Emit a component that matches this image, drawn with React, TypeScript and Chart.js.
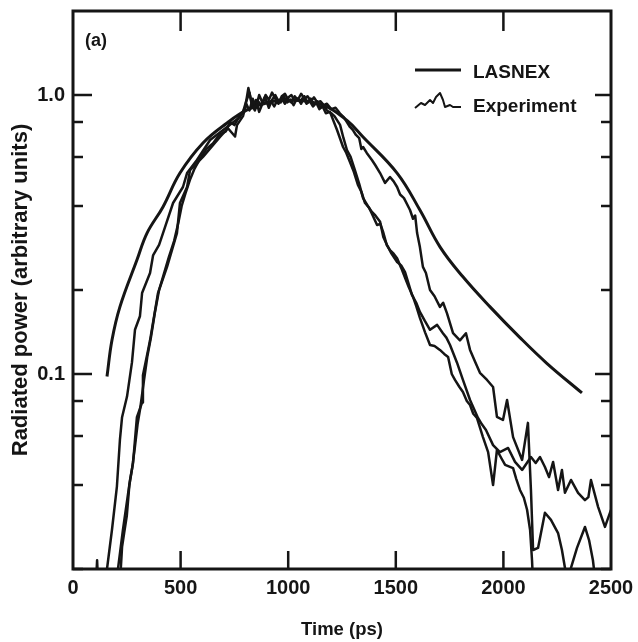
import React, { useEffect, useRef } from 'react';
import { Chart, registerables } from 'chart.js';

Chart.register(...registerables);

// ---- tick definitions ----
const timeTicks = [0, 500, 1000, 1500, 2000, 2500];
const timeInnerTicks = [500, 1000, 1500, 2000];
const powerMajorTicks = [0.1, 1.0];
const powerTickLabels = ['0.1', '1.0'];
const powerMinorTicks = [0.02, 0.04, 0.06, 0.08, 0.2, 0.4, 0.6, 0.8];

// ---- series: [time (ps), radiated power (arb. units)] ----
const lasnexCurve: [number, number][] = [
  [158, 0.098], [181, 0.132], [218, 0.174], [297, 0.256], [344, 0.32], [418, 0.397],
  [497, 0.525], [604, 0.673], [716, 0.794], [809, 0.884], [915, 0.944], [1008, 0.96],
  [1162, 0.92], [1273, 0.81], [1348, 0.707], [1506, 0.525], [1612, 0.387], [1706, 0.285],
  [1812, 0.223], [1938, 0.174], [2077, 0.135], [2203, 0.109], [2365, 0.0855],
];

const experimentRunA: [number, number][] = [
  [102, 0.015], [112, 0.0215], [121, 0.015], [150, 0.015], [158, 0.02], [181, 0.0276],
  [204, 0.0395], [218, 0.058], [228, 0.07], [251, 0.083], [274, 0.11], [288, 0.144],
  [311, 0.161], [321, 0.195], [358, 0.23], [372, 0.266], [400, 0.29], [428, 0.337], [465, 0.41],
  [511, 0.468], [530, 0.525], [576, 0.585], [637, 0.69], [716, 0.768], [776, 0.834],
  [800, 0.9], [815, 1.06], [830, 0.93], [845, 0.88], [860, 0.95], [875, 0.92], [890, 0.98],
  [905, 0.93], [920, 0.95], [935, 0.91], [950, 0.96], [965, 0.94], [980, 0.99], [995, 0.94],
  [1010, 0.96], [1025, 0.92], [1040, 0.97], [1055, 0.95], [1070, 0.98], [1085, 0.93],
  [1100, 0.95], [1115, 0.91], [1130, 0.94], [1145, 0.89], [1160, 0.91], [1175, 0.86],
  [1194, 0.87], [1227, 0.749], [1255, 0.651], [1270, 0.62], [1287, 0.575], [1305, 0.53],
  [1324, 0.476], [1340, 0.45], [1357, 0.41], [1375, 0.395], [1389, 0.375], [1413, 0.342],
  [1428, 0.345], [1441, 0.323], [1458, 0.29], [1473, 0.278], [1490, 0.27], [1506, 0.26],
  [1525, 0.24], [1543, 0.221], [1560, 0.205], [1580, 0.189], [1595, 0.175], [1612, 0.159],
  [1636, 0.141], [1659, 0.127], [1680, 0.126], [1705, 0.122], [1725, 0.118], [1743, 0.115],
  [1760, 0.1], [1775, 0.0952], [1795, 0.09], [1812, 0.0862], [1830, 0.08], [1845, 0.0774],
  [1860, 0.072], [1877, 0.0696], [1905, 0.0594], [1929, 0.0525], [1952, 0.04], [1970, 0.0534],
  [1990, 0.05], [2008, 0.0472], [2045, 0.046], [2060, 0.042], [2077, 0.0384], [2095, 0.036],
  [2110, 0.0326], [2124, 0.0276], [2133, 0.0215], [2142, 0.015], [2300, 0.015], [2314, 0.0202],
  [2342, 0.0238], [2379, 0.0283], [2398, 0.0254], [2416, 0.0215], [2440, 0.015],
];

const experimentRunB: [number, number][] = [
  [200, 0.015], [209, 0.02], [232, 0.0276], [265, 0.0417], [279, 0.048], [297, 0.07],
  [321, 0.079], [325, 0.099], [349, 0.122], [358, 0.132], [395, 0.195], [437, 0.242],
  [483, 0.32], [497, 0.41], [530, 0.468], [544, 0.538], [604, 0.6], [683, 0.707], [720, 0.76],
  [753, 0.71], [762, 0.78], [790, 0.84], [805, 0.93], [820, 0.88], [835, 0.97], [850, 0.9],
  [865, 1.0], [880, 0.94], [895, 0.97], [910, 0.9], [925, 0.96], [940, 1.0], [955, 0.95],
  [970, 0.97], [985, 0.93], [1000, 0.98], [1015, 1.0], [1030, 0.95], [1045, 0.97], [1060, 0.93],
  [1075, 0.99], [1090, 0.94], [1105, 0.97], [1120, 0.92], [1135, 0.95], [1150, 0.9],
  [1165, 0.92], [1180, 0.88], [1200, 0.86], [1215, 0.84], [1241, 0.781], [1257, 0.7],
  [1273, 0.635], [1290, 0.6], [1310, 0.538], [1330, 0.48], [1348, 0.427], [1370, 0.4],
  [1389, 0.381], [1405, 0.37], [1427, 0.351], [1442, 0.31], [1459, 0.29], [1480, 0.27],
  [1506, 0.252], [1525, 0.245], [1543, 0.232], [1560, 0.21], [1575, 0.192], [1595, 0.18],
  [1612, 0.167], [1635, 0.155], [1659, 0.144], [1692, 0.15], [1719, 0.14], [1735, 0.135],
  [1752, 0.127], [1784, 0.11], [1812, 0.0952], [1845, 0.0807], [1882, 0.0696], [1900, 0.066],
  [1919, 0.063], [1952, 0.0556], [1984, 0.0525], [2022, 0.0543], [2054, 0.0484], [2087, 0.0453],
  [2128, 0.0504], [2150, 0.048], [2170, 0.0504], [2193, 0.0464], [2212, 0.0427], [2231, 0.0484],
  [2254, 0.0384], [2272, 0.0453], [2286, 0.0375], [2314, 0.0417], [2347, 0.0375],
  [2379, 0.0353], [2395, 0.0362], [2407, 0.0417], [2440, 0.0334], [2472, 0.0283], [2500, 0.0326],
];

const experimentRunC: [number, number][] = [
  [215, 0.015], [222, 0.02], [228, 0.024], [238, 0.027], [250, 0.031], [262, 0.04], [275, 0.046],
  [288, 0.055], [300, 0.066], [312, 0.075], [330, 0.095], [345, 0.115], [362, 0.135],
  [380, 0.165], [400, 0.2], [420, 0.225], [445, 0.262], [470, 0.3], [490, 0.35], [505, 0.4],
  [525, 0.45], [545, 0.5], [565, 0.545], [590, 0.59], [620, 0.64], [650, 0.67], [680, 0.72],
  [710, 0.74], [730, 0.8], [750, 0.78], [770, 0.83], [790, 0.87], [805, 0.95], [820, 1.02],
  [835, 0.9], [850, 0.96], [865, 0.87], [880, 0.93], [895, 1.0], [910, 0.96], [925, 1.02],
  [940, 0.97], [955, 0.93], [970, 0.99], [985, 1.01], [1000, 0.96], [1015, 0.94], [1030, 0.99],
  [1045, 0.96], [1060, 1.01], [1075, 0.97], [1090, 0.99], [1105, 0.95], [1120, 0.98],
  [1135, 0.94], [1150, 0.95], [1165, 0.92], [1180, 0.93], [1200, 0.89], [1220, 0.9],
  [1240, 0.86], [1260, 0.83], [1287, 0.768], [1300, 0.75], [1315, 0.719], [1330, 0.7],
  [1340, 0.64], [1348, 0.651], [1365, 0.62], [1389, 0.585], [1405, 0.56], [1427, 0.525],
  [1450, 0.484], [1473, 0.508], [1490, 0.49], [1506, 0.468], [1520, 0.44], [1538, 0.427],
  [1566, 0.387], [1580, 0.36], [1590, 0.37], [1599, 0.32], [1612, 0.285], [1626, 0.242],
  [1640, 0.23], [1659, 0.2], [1680, 0.19], [1705, 0.174], [1720, 0.18], [1738, 0.165],
  [1766, 0.14], [1798, 0.132], [1826, 0.14], [1845, 0.122], [1870, 0.11], [1891, 0.101],
  [1924, 0.0952], [1952, 0.0898], [1970, 0.0702], [1998, 0.0684], [2017, 0.0807], [2045, 0.0594],
  [2087, 0.0492], [2114, 0.0668], [2128, 0.0384], [2138, 0.0234], [2161, 0.0238],
  [2193, 0.0318], [2221, 0.03], [2254, 0.0269], [2272, 0.0234], [2286, 0.0202], [2296, 0.015],
];

const INK = '#151515';
const FONT = "'Liberation Sans', Arial, Helvetica, sans-serif";

export default function App() {
  const ref = useRef<HTMLCanvasElement>(null);

  useEffect(() => {
    const canvas = ref.current;
    if (!canvas) return;
    const toPoints = (arr: [number, number][]) => arr.map(([x, y]) => ({ x, y }));

    const framePlugin = {
      id: 'frame',
      afterDraw(chart: any) {
        const ctx = chart.ctx as CanvasRenderingContext2D;
        const { left, right, top, bottom } = chart.chartArea;
        const xs = chart.scales.x;
        const ys = chart.scales.y;
        ctx.save();
        ctx.strokeStyle = INK;
        ctx.fillStyle = INK;
        ctx.lineCap = 'butt';
        // frame
        ctx.lineWidth = 3;
        ctx.strokeRect(left, top, right - left, bottom - top);
        // ticks (inward)
        ctx.lineWidth = 2.5;
        ctx.beginPath();
        powerMajorTicks.forEach((v) => {
          const py = ys.getPixelForValue(v);
          ctx.moveTo(left, py); ctx.lineTo(left + 19, py);
          ctx.moveTo(right, py); ctx.lineTo(right - 16, py);
        });
        powerMinorTicks.forEach((v) => {
          const py = ys.getPixelForValue(v);
          ctx.moveTo(left, py); ctx.lineTo(left + 10, py);
          ctx.moveTo(right, py); ctx.lineTo(right - 10, py);
        });
        timeInnerTicks.forEach((v) => {
          const px = xs.getPixelForValue(v);
          ctx.moveTo(px, bottom); ctx.lineTo(px, bottom - 18);
          ctx.moveTo(px, top); ctx.lineTo(px, top + 20);
        });
        ctx.stroke();

        // panel label
        ctx.font = `bold 18px ${FONT}`;
        ctx.textBaseline = 'alphabetic';
        ctx.textAlign = 'left';
        ctx.fillText('(a)', left + 12, top + 35);

        // legend
        const lx0 = right - 196;
        const lx1 = right - 150;
        ctx.lineWidth = 3;
        ctx.beginPath();
        ctx.moveTo(lx0, top + 59);
        ctx.lineTo(lx1, top + 59);
        ctx.stroke();
        ctx.lineWidth = 2;
        ctx.lineJoin = 'round';
        const wig: [number, number][] = [
          [0, 97], [6, 92], [10, 94], [15, 89], [18, 92], [21, 86], [25, 82], [28, 89],
          [30, 96], [35, 94], [38, 96], [46, 96],
        ];
        ctx.beginPath();
        wig.forEach(([dx, dy], i) => {
          if (i === 0) ctx.moveTo(lx0 + dx, top + dy);
          else ctx.lineTo(lx0 + dx, top + dy);
        });
        ctx.stroke();
        ctx.font = `bold 19px ${FONT}`;
        ctx.fillText('LASNEX', right - 138, top + 67);
        ctx.fillText('Experiment', right - 138, top + 101);
        ctx.restore();
      },
    };

    const expStyle = {
      borderColor: INK,
      borderWidth: 2.5,
      pointRadius: 0,
      tension: 0,
      borderJoinStyle: 'round' as const,
    };

    const chart = new Chart(canvas, {
      type: 'line',
      data: {
        datasets: [
          {
            label: 'LASNEX',
            data: toPoints(lasnexCurve),
            borderColor: INK,
            borderWidth: 3,
            pointRadius: 0,
            tension: 0.4,
          },
          { label: 'Experiment', data: toPoints(experimentRunA), ...expStyle },
          { label: 'Experiment', data: toPoints(experimentRunB), ...expStyle },
          { label: 'Experiment', data: toPoints(experimentRunC), ...expStyle },
        ],
      },
      options: {
        animation: false,
        responsive: true,
        maintainAspectRatio: false,
        devicePixelRatio: 1,
        layout: { padding: { top: 11, right: 27, bottom: 0, left: 0 } },
        plugins: {
          legend: { display: false },
          tooltip: { enabled: false },
        },
        scales: {
          x: {
            type: 'linear',
            min: 0,
            max: 2500,
            grid: { display: false, drawTicks: false },
            border: { display: false },
            afterBuildTicks: (ax: any) => {
              ax.ticks = timeTicks.map((v) => ({ value: v }));
            },
            afterFit: (s: any) => {
              s.height = 73;
              s.paddingLeft = 0;
              s.paddingRight = 0;
            },
            ticks: {
              autoSkip: false,
              maxRotation: 0,
              padding: 7,
              color: INK,
              font: { family: FONT, size: 20, weight: 'bold' },
              callback: (v: any) => String(v),
            },
            title: {
              display: true,
              text: 'Time (ps)',
              color: INK,
              font: { family: FONT, size: 18.5, weight: 'bold' },
              padding: { top: 0, bottom: 1 },
            },
          },
          y: {
            type: 'logarithmic',
            min: 0.02,
            max: 2,
            grid: { display: false, drawTicks: false },
            border: { display: false },
            afterBuildTicks: (ax: any) => {
              ax.ticks = powerMajorTicks.map((v) => ({ value: v }));
            },
            afterFit: (s: any) => {
              s.width = 73;
              s.paddingTop = 0;
              s.paddingBottom = 0;
            },
            ticks: {
              autoSkip: false,
              padding: 8,
              color: INK,
              font: { family: FONT, size: 20, weight: 'bold' },
              callback: (v: any) => {
                const i = powerMajorTicks.indexOf(Number(v));
                return i >= 0 ? powerTickLabels[i] : '';
              },
            },
            title: {
              display: true,
              text: 'Radiated power (arbitrary units)',
              color: INK,
              font: { family: FONT, size: 22, weight: 'bold' },
              padding: { top: 8, bottom: 0 },
            },
          },
        },
      },
      plugins: [framePlugin],
    } as any);

    return () => chart.destroy();
  }, []);

  return (
    <div style={{ position: 'fixed', left: 0, top: 0, width: 638, height: 642, background: '#fff' }}>
      <canvas ref={ref} />
    </div>
  );
}
